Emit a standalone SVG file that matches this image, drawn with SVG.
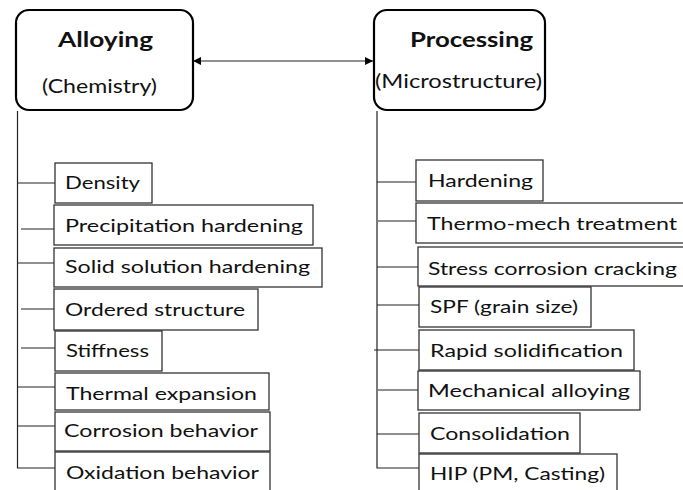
<svg xmlns="http://www.w3.org/2000/svg" width="683" height="490" viewBox="0 0 683 490">
  <defs>
    <marker id="arrowHead" viewBox="0 0 10 10" refX="10" refY="5" markerWidth="8" markerHeight="8" markerUnits="userSpaceOnUse" orient="auto-start-reverse">
      <path d="M0,0 L10,5 L0,10 z" fill="#000"/>
    </marker>
  </defs>
  <style>
    text { font-family: Lato, "Open Sans", "Liberation Sans", sans-serif; fill: #111; }
    .head { fill: #fff; stroke: #000; stroke-width: 2.2; }
    .title { font-size: 21px; font-weight: bold; }
    .sub { font-size: 19.5px; }
    .item rect { fill: #fff; stroke: #333; stroke-width: 1.3; }
    .item text { font-size: 18px; }
    .wire { fill: none; stroke: #222; stroke-width: 1.2; }
  </style>
  <rect width="683" height="490" fill="#fff"/>

  <!-- trunk and branch lines -->
  <g id="connectors">
    <line class="wire" x1="193" y1="61" x2="373" y2="61" marker-start="url(#arrowHead)" marker-end="url(#arrowHead)"/>
    <!-- alloying side -->
    <path class="wire" d="M17.5,111 V468 H55"/>
    <line class="wire" x1="17.5" y1="183" x2="55" y2="183"/>
    <line class="wire" x1="21" y1="229" x2="54" y2="229"/>
    <line class="wire" x1="17.5" y1="263" x2="54" y2="263"/>
    <line class="wire" x1="21" y1="309" x2="54" y2="309"/>
    <line class="wire" x1="21" y1="348" x2="55" y2="348"/>
    <line class="wire" x1="17.5" y1="387" x2="55" y2="387"/>
    <line class="wire" x1="17.5" y1="426" x2="55" y2="426"/>
    <!-- processing side -->
    <path class="wire" d="M377,111 V468 H419"/>
    <line class="wire" x1="377" y1="182" x2="416" y2="182"/>
    <line class="wire" x1="378" y1="221" x2="416" y2="221"/>
    <line class="wire" x1="377" y1="267" x2="418" y2="267"/>
    <line class="wire" x1="377" y1="305" x2="419" y2="305"/>
    <line class="wire" x1="374" y1="350" x2="419" y2="350"/>
    <line class="wire" x1="378" y1="390" x2="418" y2="390"/>
    <line class="wire" x1="377" y1="434" x2="419" y2="434"/>
  </g>

  <!-- headline nodes -->
  <g id="alloying">
    <rect class="head" x="16" y="10" width="177" height="100" rx="13"/>
    <text class="title" x="58" y="47" textLength="95" lengthAdjust="spacingAndGlyphs">Alloying</text>
    <text class="sub" x="42" y="93" textLength="115" lengthAdjust="spacingAndGlyphs">(Chemistry)</text>
  </g>
  <g id="processing">
    <rect class="head" x="374" y="10" width="171" height="100" rx="13"/>
    <text class="title" x="410" y="47" textLength="123" lengthAdjust="spacingAndGlyphs">Processing</text>
    <text class="sub" x="375" y="88" textLength="167" lengthAdjust="spacingAndGlyphs">(Microstructure)</text>
  </g>

  <!-- alloying properties -->
  <g id="density" class="item">
    <rect x="55" y="163" width="97" height="40"/>
    <text x="65" y="189" textLength="75" lengthAdjust="spacingAndGlyphs">Density</text>
  </g>
  <g id="precipitation-hardening" class="item">
    <rect x="54" y="205" width="259" height="40"/>
    <text x="65" y="232" textLength="238" lengthAdjust="spacingAndGlyphs">Precipitation hardening</text>
  </g>
  <g id="solid-solution-hardening" class="item">
    <rect x="54" y="248" width="268" height="39"/>
    <text x="65" y="273" textLength="245" lengthAdjust="spacingAndGlyphs">Solid solution hardening</text>
  </g>
  <g id="ordered-structure" class="item">
    <rect x="54" y="289" width="204" height="41"/>
    <text x="65" y="316" textLength="180" lengthAdjust="spacingAndGlyphs">Ordered structure</text>
  </g>
  <g id="stiffness" class="item">
    <rect x="55" y="331" width="107" height="40"/>
    <text x="66" y="357" textLength="83" lengthAdjust="spacingAndGlyphs">Stiffness</text>
  </g>
  <g id="thermal-expansion" class="item">
    <rect x="55" y="373" width="214" height="37"/>
    <text x="66" y="400" textLength="191" lengthAdjust="spacingAndGlyphs">Thermal expansion</text>
  </g>
  <g id="corrosion-behavior" class="item">
    <rect x="55" y="412" width="215" height="39"/>
    <text x="64" y="437" textLength="194" lengthAdjust="spacingAndGlyphs">Corrosion behavior</text>
  </g>
  <g id="oxidation-behavior" class="item">
    <rect x="55" y="452" width="215" height="50"/>
    <text x="66" y="479" textLength="193" lengthAdjust="spacingAndGlyphs">Oxidation behavior</text>
  </g>

  <!-- processing routes -->
  <g id="hardening" class="item">
    <rect x="416" y="160" width="127" height="41"/>
    <text x="428" y="187" textLength="105" lengthAdjust="spacingAndGlyphs">Hardening</text>
  </g>
  <g id="thermo-mech-treatment" class="item">
    <rect x="416" y="203" width="280" height="40"/>
    <text x="427" y="230" textLength="250" lengthAdjust="spacingAndGlyphs">Thermo-mech treatment</text>
  </g>
  <g id="stress-corrosion-cracking" class="item">
    <rect x="418" y="247" width="280" height="39"/>
    <text x="428" y="275" textLength="249" lengthAdjust="spacingAndGlyphs">Stress corrosion cracking</text>
  </g>
  <g id="spf-grain-size" class="item">
    <rect x="419" y="287" width="172" height="40"/>
    <text x="430" y="313" textLength="148" lengthAdjust="spacingAndGlyphs">SPF (grain size)</text>
  </g>
  <g id="rapid-solidification" class="item">
    <rect x="419" y="330" width="215" height="40"/>
    <text x="430" y="357" textLength="193" lengthAdjust="spacingAndGlyphs">Rapid solidification</text>
  </g>
  <g id="mechanical-alloying" class="item">
    <rect x="418" y="371" width="222" height="39"/>
    <text x="428" y="397" textLength="202" lengthAdjust="spacingAndGlyphs">Mechanical alloying</text>
  </g>
  <g id="consolidation" class="item">
    <rect x="419" y="413" width="161" height="40"/>
    <text x="430" y="440" textLength="140" lengthAdjust="spacingAndGlyphs">Consolidation</text>
  </g>
  <g id="hip-pm-casting" class="item">
    <rect x="419" y="454" width="198" height="50"/>
    <text x="430" y="480" textLength="175" lengthAdjust="spacingAndGlyphs">HIP (PM, Casting)</text>
  </g>
</svg>
